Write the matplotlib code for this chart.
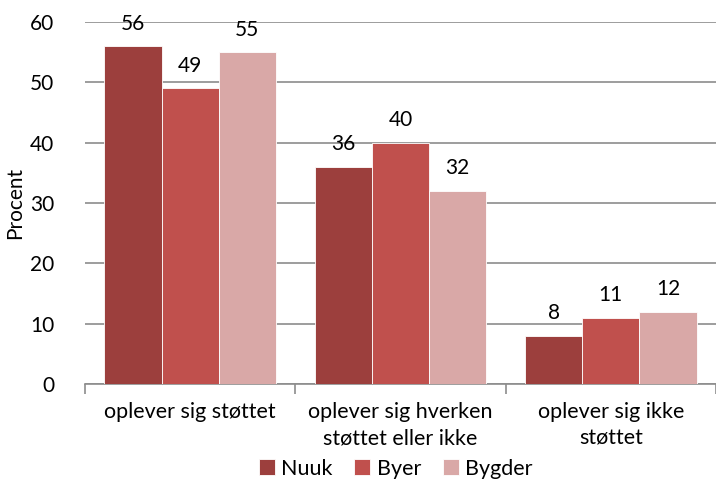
import numpy as np
import matplotlib.pyplot as plt

# data
categories = ['oplever sig støttet', 'oplever sig hverken\nstøttet eller ikke', 'oplever sig ikke\nstøttet']
series = ['Nuuk', 'Byer', 'Bygder']
nuuk = [56, 36, 8]
byer = [49, 40, 11]
bygder = [55, 32, 12]
colors = ['#9C3F3D', '#C0504D', '#D9A8A7']

plt.rcParams['font.family'] = ['Lato', 'DejaVu Sans']

fig = plt.figure(figsize=(7.16, 4.82), dpi=100)
ax = fig.add_axes([85/716, 98/482, 631/716, 362/482])

x = np.arange(len(categories))
w = 0.2717
for i, (vals, name) in enumerate(zip([nuuk, byer, bygder], series)):
    bars = ax.bar(x + (i - 1) * w, vals, width=w, color=colors[i],
                  edgecolor='white', linewidth=0.6, label=name, zorder=3)
    for b, v in zip(bars, vals):
        ax.annotate(f'{v}', (b.get_x() + b.get_width() / 2, v),
                    xytext=(0, 9), textcoords='offset points',
                    ha='center', va='bottom', fontsize=15)

ax.set_ylim(0, 60)
ax.set_xlim(-0.5, 2.5 - 9.5 / 213.5)
ax.set_yticks(range(0, 61, 10))
ax.yaxis.grid(True, color='#8C8C8C', linewidth=1.2, zorder=0)
ax.set_axisbelow(True)
for s in ['top', 'right', 'left']:
    ax.spines[s].set_visible(False)
ax.spines['bottom'].set_color('#8C8C8C')
ax.spines['bottom'].set_linewidth(1.2)
ax.tick_params(axis='y', length=0, labelsize=15, pad=22)

# group separators as major ticks, labels as minor ticks
ax.set_xticks([-0.5, 0.5, 1.5, 2.5])
ax.set_xticklabels([])
ax.tick_params(axis='x', which='major', length=7, color='#8C8C8C', width=1.2)
ax.set_xticks(x, minor=True)
ax.set_xticklabels(categories, minor=True, fontsize=15.5, linespacing=1.4)
ax.tick_params(axis='x', which='minor', length=0, pad=13)

ax.set_ylabel('Procent', fontsize=15, labelpad=4)

ax.legend(loc='lower center', bbox_to_anchor=(0.5 - 0.5 * 9.5 / 640, -0.285),
          ncol=3, frameon=False, fontsize=15.5, handlelength=0.75,
          handleheight=0.75, handletextpad=0.3, columnspacing=1.0,
          borderaxespad=0)

fig.savefig('out.png', dpi=100)
